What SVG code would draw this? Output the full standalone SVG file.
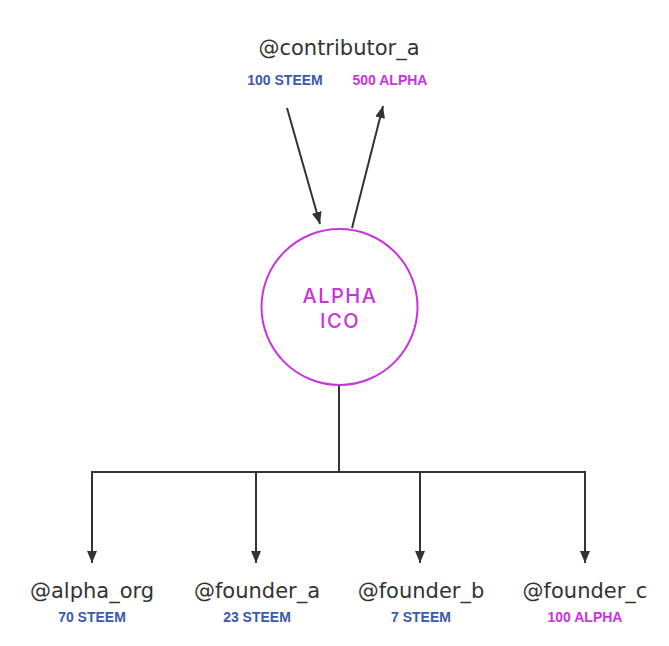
<svg xmlns="http://www.w3.org/2000/svg" width="669" height="646" viewBox="0 0 669 646">
<defs>
<marker id="ah" viewBox="0 0 12 10" refX="12" refY="5" markerWidth="12" markerHeight="10" markerUnits="userSpaceOnUse" orient="auto">
<path d="M0,0 L12,5 L0,10 z" fill="#333"/>
</marker>
<style>
.name{font-family:"DejaVu Sans","Liberation Sans",sans-serif;font-size:21px;fill:#333;text-anchor:middle}
.amt{font-family:"Liberation Sans",Arial,sans-serif;font-size:14px;font-weight:bold;text-anchor:middle}
.blue{fill:#3a59ad}
.mag{fill:#c933dc}
.ico{font-family:Inter,"DejaVu Sans",sans-serif;font-size:20px;font-weight:500;letter-spacing:1.5px;text-anchor:middle;fill:#c933dc}
.ln{stroke:#333;stroke-width:2;fill:none}
</style>
</defs>
<rect width="669" height="646" fill="#fff"/>
<g id="connectors">
<line class="ln" x1="287" y1="108" x2="320" y2="224" marker-end="url(#ah)"/>
<line class="ln" x1="352" y1="228" x2="383" y2="106" marker-end="url(#ah)"/>
<polyline class="ln" points="339,385 339,472"/>
<polyline class="ln" points="92,563 92,472 585,472 585,563" marker-end="url(#ah)"/>
<line class="ln" x1="92" y1="500" x2="92" y2="563" marker-end="url(#ah)"/>
<line class="ln" x1="256" y1="472" x2="256" y2="563" marker-end="url(#ah)"/>
<line class="ln" x1="420" y1="472" x2="420" y2="563" marker-end="url(#ah)"/>
</g>
<g id="contributor_a">
<text class="name" x="339" y="55">@contributor_a</text>
<text class="amt blue" x="285" y="85">100 STEEM</text>
<text class="amt mag" x="390" y="85">500 ALPHA</text>
</g>
<g id="alpha_ico">
<circle cx="339.5" cy="307" r="78" fill="#fff" stroke="#c933dc" stroke-width="2"/>
<text class="ico" x="340" y="303">ALPHA</text>
<text class="ico" x="340" y="328">ICO</text>
</g>
<g id="alpha_org">
<text class="name" x="92" y="598">@alpha_org</text>
<text class="amt blue" x="92" y="622">70 STEEM</text>
</g>
<g id="founder_a">
<text class="name" x="257" y="598">@founder_a</text>
<text class="amt blue" x="257" y="622">23 STEEM</text>
</g>
<g id="founder_b">
<text class="name" x="421" y="598">@founder_b</text>
<text class="amt blue" x="421" y="622">7 STEEM</text>
</g>
<g id="founder_c">
<text class="name" x="585" y="598">@founder_c</text>
<text class="amt mag" x="585" y="622">100 ALPHA</text>
</g>
</svg>
